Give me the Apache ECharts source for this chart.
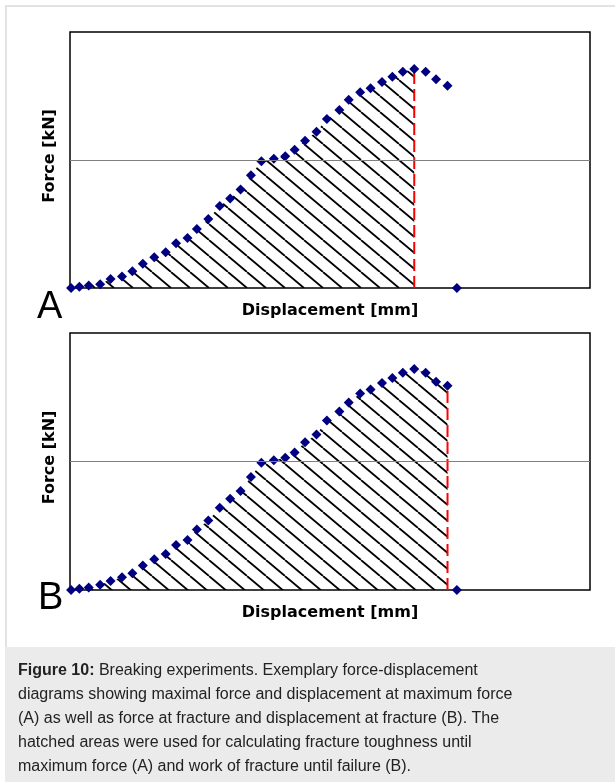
<!DOCTYPE html>
<html>
<head>
<meta charset="utf-8">
<script src="https://cdn.jsdelivr.net/npm/echarts@6/dist/echarts.min.js"></script>
<style>
  html, body { margin: 0; padding: 0; background: #fff; }
  #chart { width: 615px; height: 782px; }
</style>
</head>
<body>
<div id="chart"></div>
<script>
// displacement [mm] of the measured points (same spacing in both tests)
const displacement = [0.01, 0.09, 0.18, 0.29, 0.39, 0.50, 0.60, 0.70, 0.81, 0.92, 1.02, 1.13, 1.22,
  1.33, 1.44, 1.54, 1.64, 1.74, 1.84, 1.96, 2.07, 2.16, 2.26, 2.37, 2.47, 2.59, 2.68, 2.79, 2.89,
  3.00, 3.10, 3.20, 3.31, 3.42, 3.52, 3.63, 3.72];
// force [kN], test A
const forceA = [0.00, 0.01, 0.02, 0.03, 0.07, 0.09, 0.13, 0.19, 0.24, 0.28, 0.35, 0.39, 0.46,
  0.54, 0.64, 0.70, 0.77, 0.88, 0.99, 1.01, 1.03, 1.08, 1.15, 1.22, 1.32, 1.39, 1.47, 1.53, 1.56,
  1.61, 1.65, 1.69, 1.71, 1.69, 1.63, 1.58, 0.00];
// force [kN], test B
const forceB = [0.00, 0.01, 0.02, 0.04, 0.07, 0.10, 0.13, 0.19, 0.24, 0.28, 0.35, 0.39, 0.47,
  0.54, 0.64, 0.71, 0.77, 0.88, 0.99, 1.01, 1.03, 1.07, 1.15, 1.21, 1.32, 1.39, 1.46, 1.53, 1.56,
  1.61, 1.65, 1.69, 1.72, 1.69, 1.62, 1.59, 0.00];
const panelLabels = ['A', 'B'];
const midLine = 1; // horizontal gridline

const captionLines = [
  '{b|Figure 10:} Breaking experiments. Exemplary force-displacement',
  'diagrams showing maximal force and displacement at maximum force',
  '(A) as well as force at fracture and displacement at fracture (B). The',
  'hatched areas were used for calculating fracture toughness until',
  'maximum force (A) and work of fracture until failure (B).'
];

// hatch pattern "\\\\"
function makeHatch() {
  const c = document.createElement('canvas');
  const w = 19, h = 16;
  c.width = w; c.height = h;
  const ctx = c.getContext('2d');
  ctx.strokeStyle = '#000';
  ctx.lineWidth = 1.8;
  for (let k = -1; k <= 1; k++) {
    ctx.beginPath();
    ctx.moveTo(k * w, 0);
    ctx.lineTo(k * w + w, h);
    ctx.stroke();
  }
  return c;
}
const hatch = { image: makeHatch(), repeat: 'repeat' };

const pts = (ys, end) => ys.slice(0, end + 1).map((y, i) => [displacement[i], y]);

// A: hatch up to max force, B: up to fracture (last point before drop)
const endA = forceA.indexOf(Math.max(...forceA));
const endB = forceB.length - 2;

const grids = [
  { left: 70, top: 32, width: 520, height: 256 },
  { left: 70, top: 333, width: 520, height: 257 }
];

const nameStyle = { fontFamily: 'DejaVu Sans', fontWeight: 'bold', fontSize: 16, color: '#000' };

function buildSeries(idx, ys, end) {
  return [
    {
      type: 'line',
      xAxisIndex: idx, yAxisIndex: idx,
      data: pts(ys, end),
      symbol: 'none',
      lineStyle: { width: 0 },
      areaStyle: { color: hatch, opacity: 1 },
      silent: true,
      z: 1,
      markLine: {
        silent: true,
        symbol: 'none',
        label: { show: false },
        lineStyle: { color: '#7f7f7f', width: 1, type: 'solid' },
        data: [{ yAxis: midLine }]
      }
    },
    {
      type: 'line',
      xAxisIndex: idx, yAxisIndex: idx,
      data: [[displacement[end], 0], [displacement[end], ys[end]]],
      symbol: 'none',
      lineStyle: { color: '#ff0000', width: 2, type: [12, 5] },
      silent: true,
      z: 3
    },
    {
      type: 'scatter',
      xAxisIndex: idx, yAxisIndex: idx,
      data: ys.map((y, i) => [displacement[i], y]),
      symbol: 'diamond',
      symbolSize: 10,
      itemStyle: { color: '#000080', opacity: 1 },
      clip: false,
      silent: true,
      z: 4
    }
  ];
}

const chart = echarts.init(document.getElementById('chart'));

chart.setOption({
  animation: false,
  backgroundColor: '#fff',
  grid: grids.map(g => Object.assign({ show: true, borderColor: '#000', borderWidth: 1.5 }, g)),
  xAxis: grids.map((g, i) => ({
    type: 'value', gridIndex: i, min: 0, max: 5,
    axisLine: { show: false }, axisTick: { show: false }, axisLabel: { show: false },
    splitLine: { show: false },
    name: 'Displacement [mm]', nameLocation: 'middle', nameGap: 15,
    nameTextStyle: nameStyle
  })),
  yAxis: grids.map((g, i) => ({
    type: 'value', gridIndex: i, min: 0, max: 2,
    axisLine: { show: false }, axisTick: { show: false }, axisLabel: { show: false },
    splitLine: { show: false },
    name: 'Force [kN]', nameLocation: 'middle', nameGap: 12,
    nameTextStyle: Object.assign({ padding: [0, 0, 0, 8] }, nameStyle)
  })),
  graphic: [
    {
      type: 'rect', z: 0, silent: true,
      shape: { x: 6, y: 6, width: 640, height: 700 },
      style: { fill: null, stroke: '#e2e2e2', lineWidth: 2 }
    },
    {
      type: 'rect', z: 10, silent: true,
      shape: { x: 5, y: 647, width: 615, height: 140 },
      style: { fill: '#ebebeb' }
    },
    {
      type: 'text', z: 11, silent: true,
      style: {
        x: 18, y: 659,
        text: captionLines.join('\n'),
        fontFamily: 'Liberation Sans', fontSize: 16, lineHeight: 24,
        fill: '#222', verticalAlign: 'top',
        rich: { b: { fontWeight: 'bold', fontFamily: 'Liberation Sans', fontSize: 16, lineHeight: 24, fill: '#222' } }
      }
    },
    {
      type: 'text', z: 11, silent: true,
      style: { x: 37, y: 308, text: panelLabels[0], fontFamily: 'Liberation Sans', fontSize: 38, fill: '#000', verticalAlign: 'middle' }
    },
    {
      type: 'text', z: 11, silent: true,
      style: { x: 38, y: 599, text: panelLabels[1], fontFamily: 'Liberation Sans', fontSize: 38, fill: '#000', verticalAlign: 'middle' }
    }
  ],
  series: [].concat(buildSeries(0, forceA, endA), buildSeries(1, forceB, endB))
});
</script>
</body>
</html>
